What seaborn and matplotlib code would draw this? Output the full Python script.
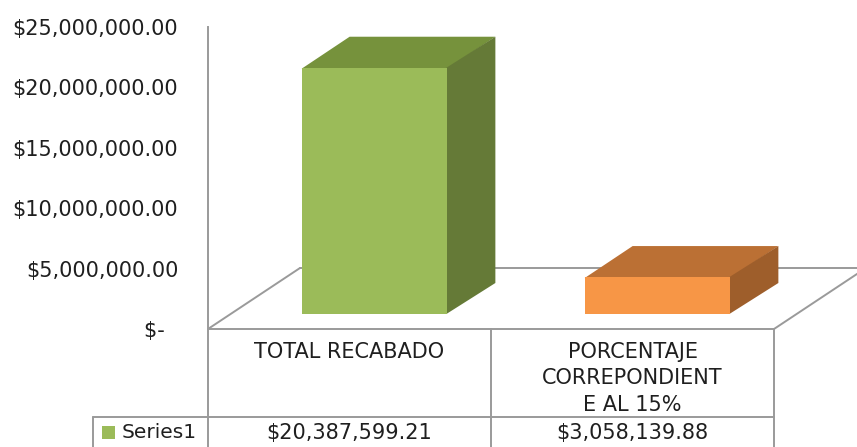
import seaborn as sns
import matplotlib.pyplot as plt
import matplotlib.transforms as mtransforms
from matplotlib.patches import Polygon, Rectangle
from matplotlib.lines import Line2D
import pandas as pd

# chart data
categories = ['TOTAL RECABADO', 'PORCENTAJE CORREPONDIENTE AL 15%']
category_labels = ['TOTAL RECABADO', 'PORCENTAJE\nCORREPONDIENT\nE AL 15%']
values = [20387599.21, 3058139.88]
series_name = 'Series1'
y_ticks = [0, 5000000, 10000000, 15000000, 20000000, 25000000]

# colours: front, top and side faces
front_colors = ['#9BBB59', '#F79646']
top_colors = ['#76923C', '#BB7034']
side_colors = ['#657A37', '#9E5E2B']
line_gray = '#9A9A9A'
text_color = '#1F1F1F'

W, H = 857, 447
sns.set_theme(style='white')
plt.rcParams['font.family'] = ['DejaVu Sans']
FS = 15

fig = plt.figure(figsize=(W / 100, H / 100), dpi=100)


def fx(px):
    return px / W


def fy(py):
    return 1 - py / H


ax = fig.add_axes([fx(208), fy(329), fx(774) - fx(208), fy(27) - fy(329)])
ax.set_facecolor('none')

df = pd.DataFrame({'category': categories, 'value': values})
sns.barplot(data=df, x='category', y='value', hue='category',
            palette=front_colors, saturation=1, width=0.515,
            legend=False, ax=ax, linewidth=0, zorder=3)
ax.set_xlim(-0.5, 1.5)
ax.set_ylim(0, 25000000)

# push the front faces back into the floor depth (pixels)
front_dx, front_dy = 25, 15
depth_dx, depth_dy = 48, 31
shift = mtransforms.ScaledTranslation(front_dx / 100, front_dy / 100, fig.dpi_scale_trans)
for p in ax.patches:
    p.set_transform(ax.transData + shift)

# top and side faces, built in display coords from each bar
ident = mtransforms.IdentityTransform()
for i, p in enumerate(list(ax.patches)):
    x0, x1 = p.get_x(), p.get_x() + p.get_width()
    h = p.get_height()
    (ax0, ay0), (ax1, ay1) = ax.transData.transform([(x0, 0), (x1, h)])
    ax0 += front_dx; ax1 += front_dx
    ay0 += front_dy; ay1 += front_dy
    top = [(ax0, ay1 - 1), (ax1, ay1 - 1), (ax1 + depth_dx, ay1 + depth_dy), (ax0 + depth_dx, ay1 + depth_dy)]
    side = [(ax1 - 1, ay0), (ax1 + depth_dx, ay0 + depth_dy), (ax1 + depth_dx, ay1 + depth_dy), (ax1 - 1, ay1)]
    ax.add_patch(Polygon(top, closed=True, facecolor=top_colors[i], edgecolor='none',
                         transform=ident, clip_on=False, zorder=2.9))
    ax.add_patch(Polygon(side, closed=True, facecolor=side_colors[i], edgecolor='none',
                         transform=ident, clip_on=False, zorder=2.9))

# floor of the 3d box (pixel coords, top-left origin)
fig_tr = fig.transFigure
floor = [
    ([208, 300], [329, 268]),
    ([300, 866], [268, 268]),
    ([774, 866], [329, 268]),
]
for xs, ys in floor:
    ax.add_line(Line2D([fx(x) for x in xs], [fy(y) for y in ys], color=line_gray,
                       lw=1.4, transform=fig_tr, clip_on=False, zorder=1))

# axes styling
ax.set_xticks([])
ax.set_xlabel('')
ax.set_ylabel('')
ax.set_yticks(y_ticks)
ax.set_yticklabels(['$-  ' if v == 0 else f'${v:,.2f}' for v in y_ticks])
ax.tick_params(axis='y', length=0, pad=21.5, labelsize=FS, labelcolor=text_color)
for s in ['top', 'right']:
    ax.spines[s].set_visible(False)
for s in ['left', 'bottom']:
    ax.spines[s].set_color(line_gray)
    ax.spines[s].set_linewidth(1.4)

# data table below the chart
table_lines = [
    ([208, 208], [329, 447]),
    ([491, 491], [329, 447]),
    ([774, 774], [329, 447]),
    ([93, 774], [417, 417]),
    ([93, 93], [417, 447]),
]
for xs, ys in table_lines:
    fig.add_artist(Line2D([fx(x) for x in xs], [fy(y) for y in ys], color=line_gray,
                          lw=1.4, transform=fig_tr))

col_x = [349.5, 632.5]
for i, lab in enumerate(category_labels):
    fig.text(fx(col_x[i]), fy(342), lab, ha='center', va='top', fontsize=FS,
             color=text_color, linespacing=1.4)
    fig.text(fx(col_x[i]), fy(433), f'${values[i]:,.2f}', ha='center', va='center',
             fontsize=FS, color=text_color)

fig.add_artist(Rectangle((fx(102), fy(439)), fx(13), fy(426) - fy(439),
                         facecolor=front_colors[0], edgecolor='none', transform=fig_tr))
fig.text(fx(122), fy(433), series_name, ha='left', va='center', fontsize=FS - 0.5, color=text_color)

fig.savefig('out.png', dpi=100)
